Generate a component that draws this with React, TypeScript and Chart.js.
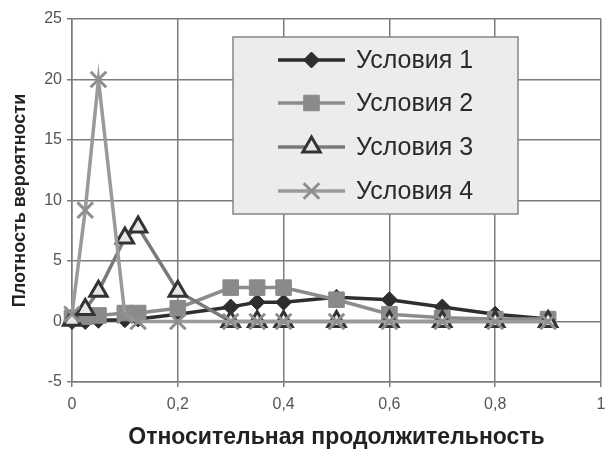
import React, { useEffect, useRef } from "react";
import { Chart, registerables } from "chart.js";
import { drawPoint } from "chart.js/helpers";

Chart.register(...registerables);

const xValues = [0, 0.025, 0.05, 0.1, 0.125, 0.2, 0.3, 0.35, 0.4, 0.5, 0.6, 0.7, 0.8, 0.9];
const series1 = [0, 0, 0.1, 0.15, 0.2, 0.6, 1.2, 1.6, 1.6, 2.0, 1.8, 1.2, 0.6, 0.2];
const series2 = [0.3, 0.4, 0.5, 0.7, 0.7, 1.1, 2.8, 2.8, 2.8, 1.8, 0.6, 0.3, 0.2, 0.2];
const series3 = [0.1, 1.0, 2.5, 6.9, 7.8, 2.5, 0, 0, 0, 0, 0, 0, 0, 0];
const series4 = [0.6, 9.2, 20, 0.5, 0, 0, 0, 0, 0, 0, 0, 0, 0, 0];
const seriesNames = ["Условия 1", "Условия 2", "Условия 3", "Условия 4"];
const xTicks = [0, 0.2, 0.4, 0.6, 0.8, 1];
const yTicks = [-5, 0, 5, 10, 15, 20, 25];
const xTitle = "Относительная продолжительность";
const yTitle = "Плотность вероятности";

const FONT = "'Liberation Sans', Arial, sans-serif";

const toPoints = (ys: number[]) => ys.map((y, i) => ({ x: xValues[i], y }));

const legendPlugin = {
  id: "boxLegend",
  afterDraw(chart: any) {
    const ctx = chart.ctx as CanvasRenderingContext2D;
    ctx.save();
    const bx = 233, by = 37, bw = 285, bh = 177;
    ctx.fillStyle = "#ececec";
    ctx.fillRect(bx, by, bw, bh);
    ctx.strokeStyle = "#858585";
    ctx.lineWidth = 1.5;
    ctx.strokeRect(bx, by, bw, bh);
    const rowY = [60, 103, 147, 191];
    const x0 = 278, x1 = 345, xm = 311.5;
    chart.data.datasets.forEach((ds: any, i: number) => {
      const y = rowY[i];
      ctx.strokeStyle = ds.borderColor;
      ctx.lineWidth = ds.borderWidth;
      ctx.beginPath();
      ctx.moveTo(x0, y);
      ctx.lineTo(x1, y);
      ctx.stroke();
      ctx.fillStyle = ds.pointBackgroundColor;
      ctx.strokeStyle = ds.pointBorderColor;
      ctx.lineWidth = ds.pointBorderWidth;
      drawPoint(ctx, {
        pointStyle: ds.pointStyle,
        radius: ds.pointRadius,
        borderWidth: ds.pointBorderWidth,
        rotation: 0,
      } as any, xm, y);
      ctx.fillStyle = "#2a2a2a";
      ctx.font = `25px ${FONT}`;
      ctx.textAlign = "left";
      ctx.textBaseline = "middle";
      ctx.fillText(ds.label, 356, y + 1);
    });
    ctx.restore();
  },
};

export default function App() {
  const canvasRef = useRef<HTMLCanvasElement | null>(null);

  useEffect(() => {
    if (!canvasRef.current) return;
    const data = [series1, series2, series3, series4];
    const styles = [
      { line: "#2e2e2e", pbg: "#2e2e2e", pb: "#2e2e2e", ps: "rectRot", r: 8, pbw: 1 },
      { line: "#8c8c8c", pbg: "#8a8a8a", pb: "#8a8a8a", ps: "rect", r: 11, pbw: 1 },
      { line: "#7a7a7a", pbg: "#e6e6e6", pb: "#333333", ps: "triangle", r: 10, pbw: 3 },
      { line: "#9a9a9a", pbg: "#9a9a9a", pb: "#8e8e8e", ps: "crossRot", r: 11, pbw: 3 },
    ];
    const chart = new Chart(canvasRef.current, {
      type: "line",
      data: {
        datasets: data.map((ys, i) => ({
          label: seriesNames[i],
          data: toPoints(ys),
          borderColor: styles[i].line,
          borderWidth: 3.5,
          pointStyle: styles[i].ps as any,
          pointRadius: styles[i].r,
          pointBackgroundColor: styles[i].pbg,
          pointBorderColor: styles[i].pb,
          pointBorderWidth: styles[i].pbw,
          fill: false,
          tension: 0,
          clip: false as any,
          order: 4 - i,
        })),
      },
      options: {
        animation: false,
        responsive: false,
        layout: { padding: { left: 0, right: 3, top: 19, bottom: 0 } },
        plugins: {
          legend: { display: false },
          tooltip: { enabled: false },
        },
        scales: {
          x: {
            type: "linear",
            min: 0,
            max: 1,
            afterBuildTicks: (scale: any) => {
              scale.ticks = xTicks.map((v) => ({ value: v }));
            },
            afterFit: (scale: any) => {
              scale.height = 67;
            },
            ticks: {
              color: "#555",
              font: { family: FONT, size: 16 },
              padding: 8,
              maxRotation: 0,
              callback: (v: any) => String(v).replace(".", ","),
            },
            grid: { color: "#7c7c7c", lineWidth: 1.5, tickLength: 5, drawTicks: true },
            border: { color: "#7c7c7c", width: 1.5 },
            title: {
              display: true,
              text: xTitle,
              color: "#222",
              font: { family: FONT, size: 23, weight: "bold" },
              padding: { top: 0, bottom: -2 },
            },
          },
          y: {
            type: "linear",
            min: -5,
            max: 25,
            afterBuildTicks: (scale: any) => {
              scale.ticks = yTicks.map((v) => ({ value: v }));
            },
            afterFit: (scale: any) => {
              scale.width = 72;
            },
            ticks: {
              color: "#555",
              font: { family: FONT, size: 16 },
              padding: 5,
            },
            grid: { color: "#7c7c7c", lineWidth: 1.5, tickLength: 5, drawTicks: true },
            border: { color: "#7c7c7c", width: 1.5 },
            title: {
              display: true,
              text: yTitle,
              color: "#222",
              font: { family: FONT, size: 18, weight: "bold" },
              padding: { top: 9, bottom: 0 },
            },
          },
        },
      },
      plugins: [legendPlugin],
    });
    return () => chart.destroy();
  }, []);

  return (
    <div style={{ position: "absolute", left: 0, top: 0, width: 615, height: 449, background: "#fff" }}>
      <canvas ref={canvasRef} width={615} height={449} />
    </div>
  );
}
